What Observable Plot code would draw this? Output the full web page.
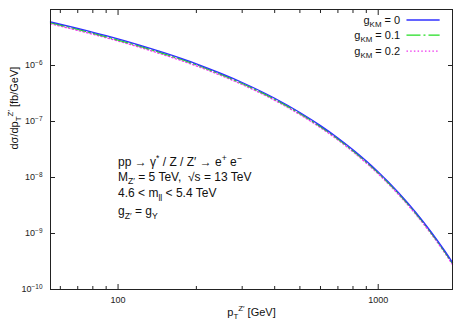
<!DOCTYPE html>
<html><head><meta charset="utf-8">
<script src="https://cdn.jsdelivr.net/npm/d3@7"></script>
<script src="https://cdn.jsdelivr.net/npm/@observablehq/plot@0.6"></script>
<style>
html,body{margin:0;padding:0;background:#fff;}
svg text{white-space:pre;}
</style>
</head><body><div id="chart"></div>
<script>
// ---- data ----
const pT = [55, 70, 90, 120, 150, 200, 250, 300, 400, 500, 600, 700, 800, 900, 1000, 1200, 1400, 1600, 1800, 1930];
const gKM0  = [6.04e-6, 4.60e-6, 3.40e-6, 2.33e-6, 1.69e-6, 1.07e-6, 7.14e-7, 4.97e-7, 2.60e-7, 1.45e-7, 8.45e-8, 5.09e-8, 3.13e-8, 1.97e-8, 1.26e-8, 5.32e-9, 2.34e-9, 1.06e-9, 4.93e-10, 3.03e-10];
const gKM01 = [5.80e-6, 4.42e-6, 3.26e-6, 2.24e-6, 1.62e-6, 1.03e-6, 6.85e-7, 4.77e-7, 2.50e-7, 1.39e-7, 8.11e-8, 4.89e-8, 3.00e-8, 1.89e-8, 1.21e-8, 5.11e-9, 2.25e-9, 1.02e-9, 4.73e-10, 2.91e-10];
const gKM02 = [5.56e-6, 4.23e-6, 3.13e-6, 2.14e-6, 1.55e-6, 9.84e-7, 6.57e-7, 4.57e-7, 2.39e-7, 1.33e-7, 7.77e-8, 4.68e-8, 2.88e-8, 1.81e-8, 1.16e-8, 4.89e-9, 2.15e-9, 9.75e-10, 4.54e-10, 2.79e-10];
const seriesLabels = ["g_{KM} = 0", "g_{KM} = 0.1", "g_{KM} = 0.2"];
const yTicks = [1e-10, 1e-9, 1e-8, 1e-7, 1e-6];
const yTickLabels = ["10^{−10}", "10^{−9}", "10^{−8}", "10^{−7}", "10^{−6}"];
const xTicks = [100, 1000];
const xTickLabels = ["100", "1000"];
const xMinorTicks = [60, 70, 80, 90, 200, 300, 400, 500, 600, 700, 800, 900];
const xLabel = "p_{T}^{Z′} [GeV]";
const yLabel = "dσ/dp_{T}^{Z′} [fb/GeV]";
const annotation = ["pp → γ^{*} / Z / Z′ → e^{+} e^{−}", "M_{Z′} = 5 TeV,  √s = 13 TeV", "4.6 < m_{ll} < 5.4 TeV", "g_{Z′} = g_{Y}"];

// ---- layout / style ----
const colors = ["#2f2fff", "#22dd22", "#ee33ee"];
const dashes = [null, "14,3,2,3", "1.5,2.2"];
const annX = 100, annY = [1.90e-8, 1.02e-8, 5.27e-9, 2.51e-9];
const legTextX = 1214, legX1 = 1290, legX2 = 1730, legY = [6.5e-6, 3.5e-6, 1.81e-6];

const series = [gKM0, gKM01, gKM02];
const rows = [];
series.forEach((vals, s) => vals.forEach((v, i) => rows.push({pT: pT[i], v, s})));
const axisColor = "#222";

const marks = [];
[2, 1, 0].forEach(s => {
  marks.push(Plot.line(rows.filter(d => d.s === s), {
    x: "pT", y: "v", stroke: colors[s], strokeWidth: 1.3,
    strokeDasharray: dashes[s], curve: "monotone-x"
  }));
});
seriesLabels.forEach((lab, s) => {
  marks.push(Plot.text([lab], {x: legTextX, y: legY[s], text: d => d, textAnchor: "end", fontSize: 11, fill: "#111"}));
  marks.push(Plot.ruleY([legY[s]], {x1: legX1, x2: legX2, stroke: colors[s], strokeWidth: 1.3, strokeDasharray: dashes[s]}));
});
annotation.forEach((t, i) => {
  marks.push(Plot.text([t], {x: annX, y: annY[i], text: d => d, textAnchor: "start", fontSize: 12, fill: "#111"}));
});
marks.push(
  Plot.axisX(xTicks, {anchor: "bottom", tickSize: -5, tickFormat: () => "", label: null, stroke: axisColor}),
  Plot.axisX(xMinorTicks, {anchor: "bottom", tickSize: -3, tickFormat: () => "", label: null, stroke: axisColor}),
  Plot.axisX(xTicks, {anchor: "top", tickSize: -5, tickFormat: () => "", label: null, stroke: axisColor}),
  Plot.axisX(xMinorTicks, {anchor: "top", tickSize: -3, tickFormat: () => "", label: null, stroke: axisColor}),
  Plot.axisX(xTicks, {anchor: "bottom", tickSize: 0, tickPadding: 7, tickFormat: d => xTickLabels[xTicks.indexOf(d)], label: null, fontSize: 9, fill: "#222"}),
  Plot.axisY(yTicks, {anchor: "left", tickSize: -5, tickFormat: () => "", label: null, stroke: axisColor}),
  Plot.axisY(yTicks, {anchor: "right", tickSize: -5, tickFormat: () => "", label: null, stroke: axisColor}),
  Plot.axisY(yTicks, {anchor: "left", tickSize: 0, tickPadding: 8, tickFormat: d => yTickLabels[yTicks.indexOf(d)], label: null, fontSize: 9, fill: "#222"}),
  Plot.frame({stroke: axisColor, strokeWidth: 1}),
  Plot.text([xLabel], {frameAnchor: "bottom", dy: 26, text: d => d, fontSize: 11, fill: "#111"}),
  Plot.text([yLabel], {frameAnchor: "left", dx: -36, rotate: -90, text: d => d, fontSize: 11, fill: "#111"})
);

const chart = Plot.plot({
  width: 469, height: 328,
  marginLeft: 50, marginRight: 17, marginTop: 9, marginBottom: 39,
  style: {fontFamily: "Liberation Sans, Arial, sans-serif", background: "#fff"},
  x: {type: "log", domain: [55, 1930], label: null},
  y: {type: "log", domain: [1e-10, 1e-5], label: null},
  marks
});
document.getElementById("chart").appendChild(chart);

// turn _{..} and ^{..} into real sub/superscripts
const NS = "http://www.w3.org/2000/svg";
chart.querySelectorAll("text").forEach(t => {
  const s = t.textContent;
  if (!/[_^]\{/.test(s)) return;
  const fs = parseFloat(getComputedStyle(t).fontSize) || 10;
  while (t.firstChild) t.removeChild(t.firstChild);
  const re = /([_^])\{([^}]*)\}|([^_^]+)/g;
  let m, cur = 0;
  while ((m = re.exec(s))) {
    const ts = document.createElementNS(NS, "tspan");
    let target = 0, txt = m[3];
    if (m[1]) {
      target = m[1] === "^" ? -0.42 * fs : 0.3 * fs;
      txt = m[2];
      ts.setAttribute("font-size", (0.72 * fs).toFixed(2));
    }
    ts.setAttribute("dy", (target - cur).toFixed(2));
    cur = target;
    ts.textContent = txt;
    t.appendChild(ts);
  }
});
</script>
</body></html>
